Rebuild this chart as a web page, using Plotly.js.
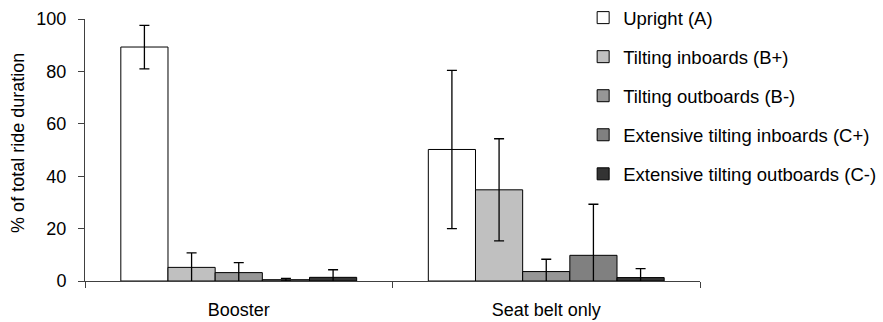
<!DOCTYPE html>
<html>
<head>
<meta charset="utf-8">
<script src="https://cdn.plot.ly/plotly-3.0.1.min.js"></script>
<style>html,body{margin:0;padding:0;background:#fff;}#chart{width:883px;height:322px;}</style>
</head>
<body>
<div id="chart"></div>
<script>
const categories = ['Booster', 'Seat belt only'];
const seriesNames = ['Upright (A)', 'Tilting inboards (B+)', 'Tilting outboards (B-)', 'Extensive tilting inboards (C+)', 'Extensive tilting outboards (C-)'];
const uprightA = [89.3, 50.2];
const uprightA_err = [8.3, 30.2];
const tiltInB = [5.2, 34.8];
const tiltInB_err = [5.5, 19.5];
const tiltOutB = [3.2, 3.6];
const tiltOutB_err = [3.8, 4.7];
const extInC = [0.5, 9.8];
const extInC_err = [0.5, 19.5];
const extOutC = [1.4, 1.3];
const extOutC_err = [2.9, 3.4];
const yTicks = [0, 20, 40, 60, 80, 100];
const yTitle = '% of total ride duration';

const values = [uprightA, tiltInB, tiltOutB, extInC, extOutC];
const errors = [uprightA_err, tiltInB_err, tiltOutB_err, extInC_err, extOutC_err];
const colors = ['#ffffff', '#c0c0c0', '#969696', '#808080', '#333333'];

const traces = values.map((v, i) => ({
  type: 'bar',
  name: seriesNames[i],
  x: categories,
  y: v,
  legendgroup: 'g' + i,
  marker: {color: colors[i], line: {color: '#000', width: 1}},
  error_y: {type: 'data', array: errors[i], visible: true, color: '#000', thickness: 1.3, width: 5}
}));

const layout = {
  width: 883, height: 322,
  margin: {l: 85, r: 183, t: 19, b: 41, autoexpand: false},
  paper_bgcolor: '#fff', plot_bgcolor: '#fff',
  font: {family: '"Liberation Sans", Arial, sans-serif', size: 18, color: '#000'},
  barmode: 'group', bargap: 0.233, bargroupgap: 0,
  showlegend: true,
  legend: {x: 0.81, xanchor: 'left', y: 1.076, yanchor: 'top', tracegroupgap: 12, maxheight: 400,
           font: {size: 18.5}, bgcolor: 'rgba(0,0,0,0)', borderwidth: 0},
  xaxis: {type: 'category', showline: true, linecolor: '#404040', linewidth: 1,
          ticks: 'outside', tickson: 'boundaries', ticklen: 6, tickcolor: '#404040',
          showgrid: false, zeroline: false, ticklabelstandoff: 12, fixedrange: true},
  yaxis: {range: [0, 100], tickvals: yTicks, ticktext: yTicks.map(String), showline: true,
          linecolor: '#404040', linewidth: 1, ticks: 'outside', ticklen: 6, tickcolor: '#404040',
          showgrid: false, zeroline: false, ticklabelstandoff: 8, fixedrange: true},
  annotations: [{text: yTitle, xref: 'paper', yref: 'paper', x: -0.109, y: 0.527,
                 xanchor: 'center', yanchor: 'middle', textangle: -90, showarrow: false,
                 font: {size: 18}}]
};

Plotly.newPlot('chart', traces, layout, {displayModeBar: false, staticPlot: true});
</script>
</body>
</html>
